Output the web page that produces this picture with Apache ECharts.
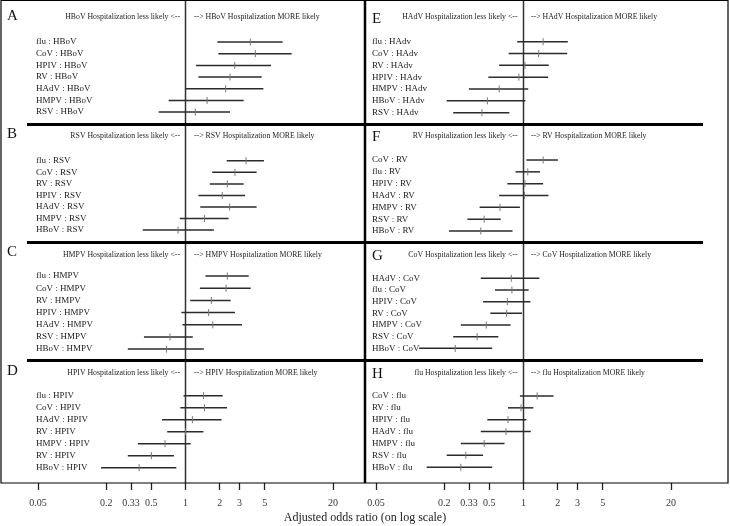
<!DOCTYPE html>
<html><head><meta charset="utf-8">
<script src="https://cdn.jsdelivr.net/npm/echarts@6/dist/echarts.min.js"></script>
<style>html,body{margin:0;padding:0;background:#fff}#c{width:730px;height:526px}</style>
</head><body><div id="c"></div>
<script>
// ---- tick labels / reference ----
const tickValues = [0.05, 0.2, 0.33, 0.5, 1, 2, 3, 5, 20];
const refLine = [1];
const axisTitle = 'Adjusted odds ratio (on log scale)';

// ---- Panel A : HBoV ----
const aLabels = ['flu : HBoV','CoV : HBoV','HPIV : HBoV','RV : HBoV','HAdV : HBoV','HMPV : HBoV','RSV : HBoV'];
const aOR = [3.73, 4.13, 2.72, 2.47, 2.26, 1.55, 1.22];
const aLo = [1.91, 1.95, 1.24, 1.30, 1.00, 0.71, 0.58];
const aHi = [7.19, 8.64, 5.68, 4.70, 4.86, 3.26, 2.47];
// ---- Panel B : RSV ----
const bLabels = ['flu : RSV','CoV : RSV','RV : RSV','HPIV : RSV','HAdV : RSV','HMPV : RSV','HBoV : RSV'];
const bOR = [3.42, 2.73, 2.34, 2.11, 2.45, 1.47, 0.86];
const bLo = [2.31, 1.72, 1.64, 1.30, 1.35, 0.89, 0.42];
const bHi = [4.92, 4.24, 3.26, 3.35, 4.24, 2.40, 1.78];
// ---- Panel C : HMPV ----
const cLabels = ['flu : HMPV','CoV : HMPV','RV : HMPV','HPIV : HMPV','HAdV : HMPV','RSV : HMPV','HBoV : HMPV'];
const cOR = [2.34, 2.28, 1.69, 1.60, 1.74, 0.73, 0.68];
const cLo = [1.50, 1.34, 1.10, 0.92, 0.94, 0.43, 0.31];
const cHi = [3.61, 3.76, 2.50, 2.73, 3.15, 1.16, 1.45];
// ---- Panel D : HPIV ----
const dLabels = ['flu : HPIV','CoV : HPIV','HAdV : HPIV','RV : HPIV','HMPV : HPIV','RV : HPIV','HBoV : HPIV'];
const dOR = [1.44, 1.47, 1.15, 1.00, 0.66, 0.50, 0.39];
const dLo = [0.96, 0.90, 0.62, 0.69, 0.38, 0.31, 0.18];
const dHi = [2.13, 2.32, 2.08, 1.44, 1.11, 0.79, 0.83];
// ---- Panel E : HAdV ----
const eLabels = ['flu : HAdv','CoV : HAdv','RV : HAdv','HPIV : HAdv','HMPV : HAdv','HBoV : HAdv','RSV : HAdv'];
const eOR = [1.49, 1.36, 1.03, 0.91, 0.61, 0.48, 0.43];
const eLo = [0.88, 0.74, 0.61, 0.49, 0.33, 0.21, 0.24];
const eHi = [2.46, 2.43, 1.67, 1.65, 1.10, 1.04, 0.75];
// ---- Panel F : RV ----
const fLabels = ['CoV : RV','flu : RV','HPIV : RV','HAdV : RV','HMPV : RV','RSV : RV','HBoV : RV'];
const fOR = [1.49, 1.09, 1.03, 1.02, 0.62, 0.45, 0.42];
const fLo = [1.06, 0.85, 0.72, 0.61, 0.41, 0.32, 0.22];
const fHi = [2.01, 1.40, 1.49, 1.66, 0.93, 0.63, 0.80];
// ---- Panel G : CoV ----
const gLabels = ['HAdV : CoV','flu : CoV','HPIV : CoV','RV : CoV','HMPV : CoV','RSV : CoV','HBoV : CoV'];
const gOR = [0.78, 0.79, 0.72, 0.71, 0.47, 0.39, 0.25];
const gLo = [0.42, 0.56, 0.44, 0.51, 0.28, 0.24, 0.12];
const gHi = [1.38, 1.11, 1.15, 0.97, 0.77, 0.60, 0.53];
// ---- Panel H : flu ----
const hLabels = ['CoV : flu','RV : flu','HPIV : flu','HAdV : flu','HMPV : flu','RSV : flu','HBoV : flu'];
const hOR = [1.32, 0.95, 0.73, 0.70, 0.45, 0.31, 0.28];
const hLo = [0.93, 0.73, 0.48, 0.42, 0.28, 0.21, 0.14];
const hHi = [1.84, 1.22, 1.06, 1.16, 0.68, 0.44, 0.53];

// ---- layout (not data) ----
const FONT = 'Liberation Serif';
const SIDES = {
  L: {gridLeft: 38, labelMargin: -2, letterX: 7, headLeftEnd: 180, headRightStart: 194},
  R: {gridLeft: 376, labelMargin: -4, letterX: 372, headLeftEnd: 517.5, headRightStart: 531}
};
const panels = [
  {letter:'A', who:'HBoV', side:'L', top:36.2, height:81.7, letterY:16, headY:17.3, labels:aLabels, or:aOR, lo:aLo, hi:aHi},
  {letter:'B', who:'RSV',  side:'L', top:155,  height:80.9, letterY:134, headY:136, labels:bLabels, or:bOR, lo:bLo, hi:bHi},
  {letter:'C', who:'HMPV', side:'L', top:270,  height:85.2, letterY:252.5, headY:255, labels:cLabels, or:cOR, lo:cLo, hi:cHi},
  {letter:'D', who:'HPIV', side:'L', top:389.7,height:84,   letterY:371, headY:372.7, labels:dLabels, or:dOR, lo:dLo, hi:dHi},
  {letter:'E', who:'HAdV', side:'R', top:35.8, height:82.8, letterY:19.5, headY:17.3, labels:eLabels, or:eOR, lo:eLo, hi:eHi},
  {letter:'F', who:'RV',   side:'R', top:154.1,height:82.8, letterY:137.5, headY:136, labels:fLabels, or:fOR, lo:fLo, hi:fHi},
  {letter:'G', who:'CoV',  side:'R', top:272.5,height:81.7, letterY:256, headY:255, labels:gLabels, or:gOR, lo:gLo, hi:gHi},
  {letter:'H', who:'flu',  side:'R', top:390,  height:83.2, letterY:374, headY:372.7, labels:hLabels, or:hOR, lo:hLo, hi:hHi}
];
const PLOT_W = 295, FRAME_BOTTOM = 483;

const grid = [], xAxis = [], yAxis = [], series = [], graphic = [];
const fmt = v => String(+(+v).toFixed(2));

// background grids (left / right halves): reference line + bottom axis
['L','R'].forEach((s, k) => {
  grid.push({left: SIDES[s].gridLeft, top: 0, width: PLOT_W, height: FRAME_BOTTOM, outerBoundsMode: 'none', containLabel: false});
  xAxis.push({type: 'log', logBase: 10, min: 0.05, max: 20, gridIndex: k, position: 'bottom', offset: 4,
    axisLine: {show: false}, splitLine: {show: false},
    axisTick: {show: true, length: 7, customValues: tickValues, lineStyle: {color: '#222', width: 1.3}},
    axisLabel: {show: true, customValues: tickValues, formatter: fmt, margin: 11, fontFamily: FONT, fontSize: 10, color: '#333'}});
  yAxis.push({type: 'value', min: 0, max: 1, gridIndex: k, show: false});
  series.push({type: 'custom', xAxisIndex: k, yAxisIndex: k, data: refLine.map(v => [v, 0]), encode: {x: 0, y: 1}, z: 1,
    renderItem: (params, api) => {
      const x = api.coord([api.value(0), 0])[0];
      const cs = params.coordSys;
      return {type: 'line', shape: {x1: x, y1: cs.y, x2: x, y2: cs.y + cs.height}, style: {stroke: '#333', lineWidth: 1.5}};
    }});
});

panels.forEach((p, i) => {
  const gi = i + 2, S = SIDES[p.side];
  grid.push({left: S.gridLeft, top: p.top, width: PLOT_W, height: p.height, outerBoundsMode: 'none', containLabel: false});
  xAxis.push({type: 'log', logBase: 10, min: 0.05, max: 20, gridIndex: gi, show: false, splitLine: {show: false}});
  yAxis.push({type: 'category', data: p.labels, inverse: true, gridIndex: gi,
    axisLine: {show: false}, axisTick: {show: false}, splitLine: {show: false},
    axisLabel: {inside: true, interval: 0, hideOverlap: false, margin: S.labelMargin, fontFamily: FONT, fontSize: 9, color: '#1a1a1a', align: 'left'}});
  series.push({type: 'custom', xAxisIndex: gi, yAxisIndex: gi, z: 3,
    data: p.lo.map((l, j) => [l, p.or[j], p.hi[j], j]),
    encode: {x: [0, 1, 2], y: 3},
    renderItem: (params, api) => {
      const r = api.value(3);
      const pl = api.coord([api.value(0), r]);
      const pm = api.coord([api.value(1), r]);
      const ph = api.coord([api.value(2), r]);
      return {type: 'group', children: [
        {type: 'line', shape: {x1: pl[0], y1: pl[1], x2: ph[0], y2: ph[1]}, style: {stroke: '#2b2b2b', lineWidth: 1.5}},
        {type: 'line', shape: {x1: pm[0], y1: pm[1] - 3.5, x2: pm[0], y2: pm[1] + 3.5}, style: {stroke: '#777', lineWidth: 1}}
      ]};
    }});
  graphic.push({type: 'text', x: S.letterX, y: p.letterY, z: 10,
    style: {text: p.letter, font: `15px "${FONT}"`, fill: '#111', align: 'left', verticalAlign: 'middle'}});
  graphic.push({type: 'text', x: S.headLeftEnd, y: p.headY, z: 10,
    style: {text: `${p.who} Hospitalization less likely <--`, font: `7.8px "${FONT}"`, fill: '#222', align: 'right', verticalAlign: 'middle'}});
  graphic.push({type: 'text', x: S.headRightStart, y: p.headY, z: 10,
    style: {text: `--> ${p.who} Hospitalization MORE likely`, font: `7.8px "${FONT}"`, fill: '#222', align: 'left', verticalAlign: 'middle'}});
});

// frame
graphic.push({type: 'rect', z: 20, shape: {x: 1, y: 0.5, width: 727, height: 482.5}, style: {fill: 'none', stroke: '#000', lineWidth: 1.2}});
graphic.push({type: 'line', z: 20, shape: {x1: 365, y1: 0, x2: 365, y2: FRAME_BOTTOM}, style: {stroke: '#000', lineWidth: 2.5}});
[124.5, 242.5, 360.5].forEach(y => graphic.push({type: 'line', z: 20, shape: {x1: 27, y1: y, x2: 703, y2: y}, style: {stroke: '#000', lineWidth: 3}}));

const chart = echarts.init(document.getElementById('c'), null, {renderer: 'canvas'});
chart.setOption({
  animation: false,
  backgroundColor: '#fff',
  title: {text: axisTitle, left: 'center', top: 512, padding: 0,
    textStyle: {fontFamily: FONT, fontSize: 12, fontWeight: 'normal', color: '#222'}},
  grid, xAxis, yAxis, series, graphic
});
</script></body></html>
